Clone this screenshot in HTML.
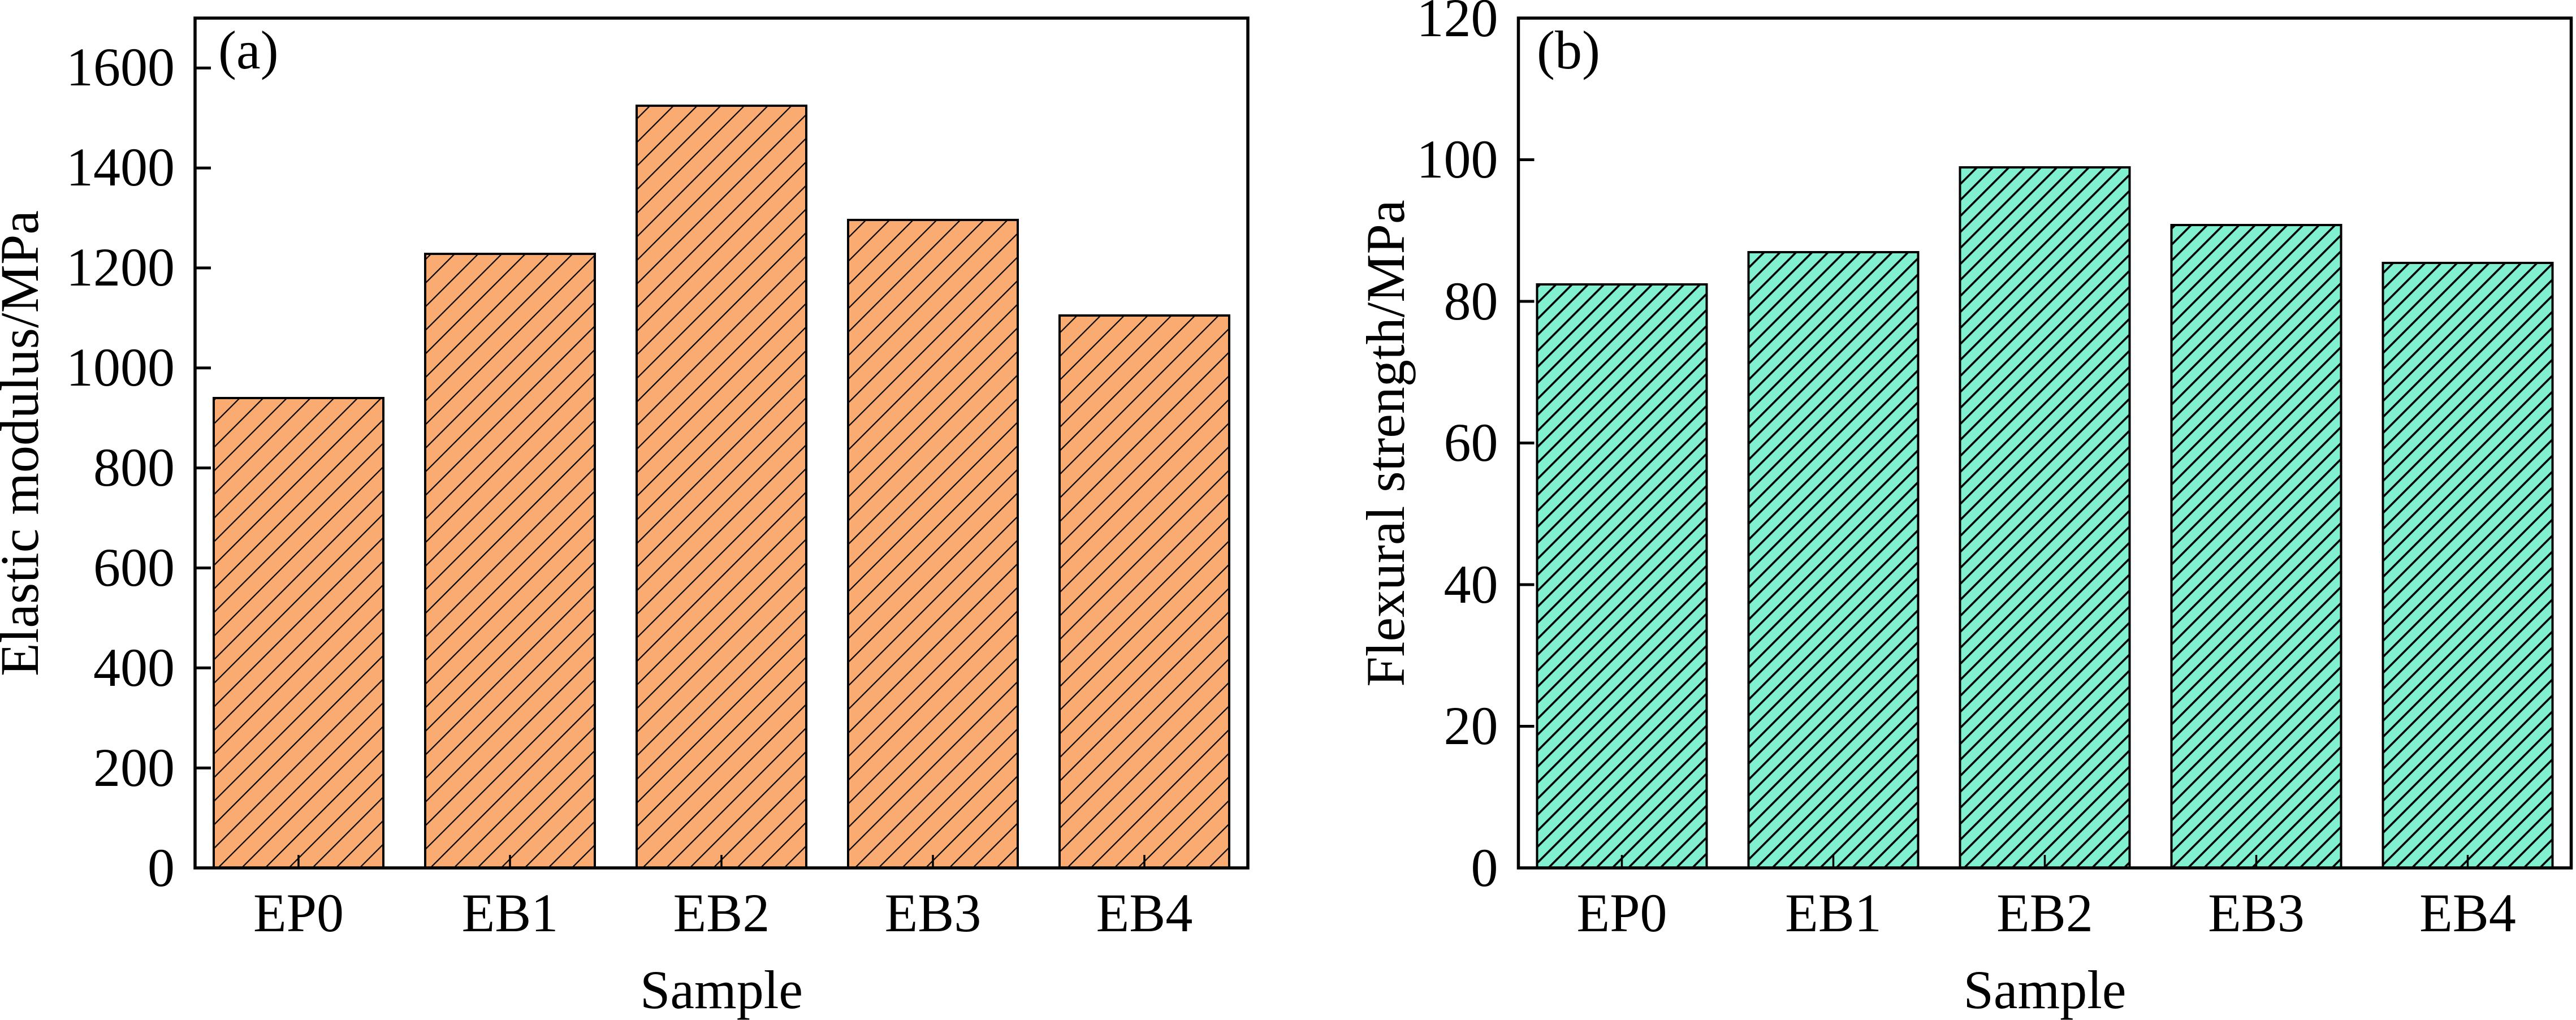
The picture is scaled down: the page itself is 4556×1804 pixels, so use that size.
<!DOCTYPE html>
<html>
<head>
<meta charset="utf-8">
<style>
html,body{margin:0;padding:0;background:#fff;}
svg{display:block;}
text{font-family:"Liberation Serif","Times New Roman",serif;fill:#000;}
</style>
</head>
<body>
<svg xmlns="http://www.w3.org/2000/svg" width="4556" height="1804" viewBox="0 0 4556 1804">
<defs>
<pattern id="hatchA" patternUnits="userSpaceOnUse" width="29.5" height="20" patternTransform="rotate(45)">
<rect x="0" y="0" width="29.5" height="20" fill="#F9AB71"/>
<rect x="0" y="0" width="2.2" height="20" fill="#000"/>
</pattern>
<pattern id="hatchB" patternUnits="userSpaceOnUse" width="20" height="20" patternTransform="rotate(45)">
<rect x="0" y="0" width="20" height="20" fill="#80F0D0"/>
<rect x="0" y="0" width="3.6" height="20" fill="#000"/>
</pattern>
</defs>
<rect x="0" y="0" width="4556" height="1804" fill="#fff"/>

<!-- ================= Panel (a) ================= -->
<g>
<!-- bars: y0=1535, scale 0.8841 px/unit -->
<rect x="378" y="704" width="300" height="831" fill="url(#hatchA)" stroke="#000" stroke-width="4"/>
<rect x="752" y="449" width="300" height="1086" fill="url(#hatchA)" stroke="#000" stroke-width="4"/>
<rect x="1126" y="187" width="300" height="1348" fill="url(#hatchA)" stroke="#000" stroke-width="4"/>
<rect x="1500" y="389" width="300" height="1146" fill="url(#hatchA)" stroke="#000" stroke-width="4"/>
<rect x="1874" y="558" width="300" height="977" fill="url(#hatchA)" stroke="#000" stroke-width="4"/>

<!-- x ticks -->
<g stroke="#000" stroke-width="3.5">
<line x1="528" y1="1535" x2="528" y2="1512"/>
<line x1="902" y1="1535" x2="902" y2="1512"/>
<line x1="1276" y1="1535" x2="1276" y2="1512"/>
<line x1="1650" y1="1535" x2="1650" y2="1512"/>
<line x1="2024" y1="1535" x2="2024" y2="1512"/>
</g>
<!-- y ticks -->
<g stroke="#000" stroke-width="5">
<line x1="345" y1="1358.2" x2="373" y2="1358.2"/>
<line x1="345" y1="1181.3" x2="373" y2="1181.3"/>
<line x1="345" y1="1004.5" x2="373" y2="1004.5"/>
<line x1="345" y1="827.6" x2="373" y2="827.6"/>
<line x1="345" y1="650.8" x2="373" y2="650.8"/>
<line x1="345" y1="473.9" x2="373" y2="473.9"/>
<line x1="345" y1="297.1" x2="373" y2="297.1"/>
<line x1="345" y1="120.2" x2="373" y2="120.2"/>
</g>
<!-- frame -->
<rect x="345" y="32" width="1862" height="1503" fill="none" stroke="#000" stroke-width="5.5"/>

<!-- y tick labels -->
<g font-size="96" text-anchor="end">
<text x="309" y="1567">0</text>
<text x="309" y="1390">200</text>
<text x="309" y="1213">400</text>
<text x="309" y="1036">600</text>
<text x="309" y="859">800</text>
<text x="309" y="682">1000</text>
<text x="309" y="505">1200</text>
<text x="309" y="328">1400</text>
<text x="309" y="151">1600</text>
</g>
<!-- x tick labels -->
<g font-size="96" text-anchor="middle">
<text x="528" y="1647">EP0</text>
<text x="902" y="1647">EB1</text>
<text x="1276" y="1647">EB2</text>
<text x="1650" y="1647">EB3</text>
<text x="2024" y="1647">EB4</text>
<text x="1276" y="1783">Sample</text>
</g>
<text x="386" y="121" font-size="96">(a)</text>
<text transform="translate(67,784) rotate(-90)" font-size="96" text-anchor="middle">Elastic modulus/MPa</text>
</g>

<!-- ================= Panel (b) ================= -->
<g>
<!-- bars: y0=1535, scale 12.525 px/unit -->
<rect x="2718.5" y="503" width="300" height="1032" fill="url(#hatchB)" stroke="#000" stroke-width="4"/>
<rect x="3092.5" y="446" width="300" height="1089" fill="url(#hatchB)" stroke="#000" stroke-width="4"/>
<rect x="3466.5" y="296" width="300" height="1239" fill="url(#hatchB)" stroke="#000" stroke-width="4"/>
<rect x="3840.5" y="398" width="300" height="1137" fill="url(#hatchB)" stroke="#000" stroke-width="4"/>
<rect x="4214.5" y="465" width="300" height="1070" fill="url(#hatchB)" stroke="#000" stroke-width="4"/>

<!-- x ticks -->
<g stroke="#000" stroke-width="3.5">
<line x1="2868.5" y1="1535" x2="2868.5" y2="1512"/>
<line x1="3242.5" y1="1535" x2="3242.5" y2="1512"/>
<line x1="3616.5" y1="1535" x2="3616.5" y2="1512"/>
<line x1="3990.5" y1="1535" x2="3990.5" y2="1512"/>
<line x1="4364.5" y1="1535" x2="4364.5" y2="1512"/>
</g>
<!-- y ticks -->
<g stroke="#000" stroke-width="5">
<line x1="2685.5" y1="1284.5" x2="2713.5" y2="1284.5"/>
<line x1="2685.5" y1="1034" x2="2713.5" y2="1034"/>
<line x1="2685.5" y1="783.5" x2="2713.5" y2="783.5"/>
<line x1="2685.5" y1="533" x2="2713.5" y2="533"/>
<line x1="2685.5" y1="282.5" x2="2713.5" y2="282.5"/>
</g>
<!-- frame -->
<rect x="2685.5" y="32" width="1862" height="1503" fill="none" stroke="#000" stroke-width="5.5"/>

<!-- y tick labels -->
<g font-size="96" text-anchor="end">
<text x="2649.5" y="1567">0</text>
<text x="2649.5" y="1316">20</text>
<text x="2649.5" y="1066">40</text>
<text x="2649.5" y="815">60</text>
<text x="2649.5" y="565">80</text>
<text x="2649.5" y="314">100</text>
<text x="2649.5" y="64">120</text>
</g>
<!-- x tick labels -->
<g font-size="96" text-anchor="middle">
<text x="2868.5" y="1647">EP0</text>
<text x="3242.5" y="1647">EB1</text>
<text x="3616.5" y="1647">EB2</text>
<text x="3990.5" y="1647">EB3</text>
<text x="4364.5" y="1647">EB4</text>
<text x="3616.5" y="1783">Sample</text>
</g>
<text x="2718" y="121" font-size="96">(b)</text>
<text transform="translate(2483,784) rotate(-90)" font-size="96" text-anchor="middle">Flexural strength/MPa</text>
</g>
</svg>
</body>
</html>
